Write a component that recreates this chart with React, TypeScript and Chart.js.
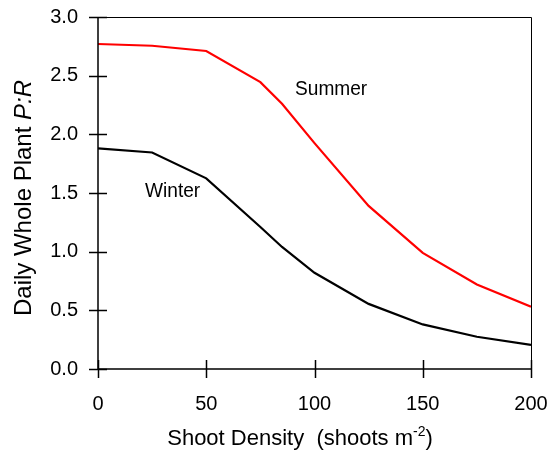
import React, { useEffect, useRef } from "react";
import { Chart, registerables } from "chart.js";

Chart.register(...registerables);

const densities = [0, 25, 50, 75, 85, 100, 125, 150, 175, 200];
const summerPR = [2.77, 2.755, 2.71, 2.445, 2.26, 1.925, 1.39, 0.99, 0.72, 0.53];
const winterPR = [1.88, 1.845, 1.625, 1.21, 1.04, 0.82, 0.555, 0.38, 0.275, 0.205];
const xTicks = [0, 50, 100, 150, 200];
const yTicks = [0, 0.5, 1.0, 1.5, 2.0, 2.5, 3.0];
const seriesNames = ["Summer", "Winter"];
const seriesColors = ["#ff0000", "#000000"];
// label anchor (data coords: x, y of text baseline-left)
const labelX = [91, 21.7];
const labelY = [2.335, 1.468];

const FONT = "'Liberation Sans', Arial, Helvetica, sans-serif";

const decorPlugin = {
  id: "decor",
  afterDraw(chart: any) {
    const { ctx, chartArea } = chart;
    const xs = chart.scales.x;
    const ys = chart.scales.y;
    const { left, right, top, bottom } = chartArea;
    ctx.save();
    // frame top and right
    ctx.strokeStyle = "#000";
    ctx.lineWidth = 1;
    ctx.beginPath();
    ctx.moveTo(left, top + 0.5);
    ctx.lineTo(right + 0.5, top + 0.5);
    ctx.lineTo(right + 0.5, bottom);
    ctx.stroke();
    // axes
    ctx.lineWidth = 1.5;
    ctx.beginPath();
    ctx.moveTo(left, top);
    ctx.lineTo(left, bottom);
    ctx.lineTo(right + 1, bottom);
    ctx.stroke();
    // ticks crossing axes
    ctx.lineWidth = 1.5;
    ctx.beginPath();
    for (const v of yTicks) {
      const py = Math.round(ys.getPixelForValue(v)) + 0.5;
      ctx.moveTo(left - 9, py);
      ctx.lineTo(left + 9, py);
    }
    for (const v of xTicks) {
      const px = Math.round(xs.getPixelForValue(v)) + 0.5;
      ctx.moveTo(px, bottom - 9);
      ctx.lineTo(px, bottom + 9);
    }
    ctx.stroke();

    // series labels
    ctx.fillStyle = "#000";
    ctx.font = `21px ${FONT}`;
    ctx.textBaseline = "alphabetic";
    ctx.textAlign = "left";
    for (let i = 0; i < seriesNames.length; i++) {
      const px = xs.getPixelForValue(labelX[i]);
      const py = ys.getPixelForValue(labelY[i]);
      ctx.save();
      ctx.translate(px, py);
      ctx.scale(0.91, 1);
      ctx.fillText(seriesNames[i], 0, 0);
      ctx.restore();
    }

    // x title
    ctx.font = `22px ${FONT}`;
    const parts = ["Shoot Density  (shoots m", "-2", ")"];
    const w0 = ctx.measureText(parts[0]).width;
    ctx.font = `14px ${FONT}`;
    const w1 = ctx.measureText(parts[1]).width;
    ctx.font = `22px ${FONT}`;
    const w2 = ctx.measureText(parts[2]).width;
    const total = w0 + w1 + w2;
    const cx = 300;
    let sx = cx - total / 2;
    const by = 445;
    ctx.fillText(parts[0], sx, by);
    sx += w0;
    ctx.font = `14px ${FONT}`;
    ctx.fillText(parts[1], sx, by - 9);
    sx += w1;
    ctx.font = `22px ${FONT}`;
    ctx.fillText(parts[2], sx, by);

    // y title
    ctx.save();
    ctx.translate(31, 198);
    ctx.rotate(-Math.PI / 2);
    ctx.font = `24px ${FONT}`;
    const a = "Daily Whole Plant ";
    const b = "P:R";
    const wa = ctx.measureText(a).width;
    ctx.font = `italic 24px ${FONT}`;
    const wb = ctx.measureText(b).width;
    let tx = -(wa + wb) / 2;
    ctx.font = `24px ${FONT}`;
    ctx.fillText(a, tx, 0);
    tx += wa;
    ctx.font = `italic 24px ${FONT}`;
    ctx.fillText(b, tx, 0);
    ctx.restore();

    ctx.restore();
  },
};

const zeroPad = (s: any) => {
  s.paddingTop = 0;
  s.paddingBottom = 0;
  s.paddingLeft = 0;
  s.paddingRight = 0;
};

export default function App() {
  const ref = useRef<HTMLCanvasElement | null>(null);
  useEffect(() => {
    if (!ref.current) return;
    const chart = new Chart(ref.current, {
      type: "line",
      data: {
        datasets: seriesNames.map((name, i) => ({
          label: name,
          data: densities.map((d, j) => ({ x: d, y: (i === 0 ? summerPR : winterPR)[j] })),
          borderColor: seriesColors[i],
          borderWidth: 2.2,
          pointRadius: 0,
          tension: 0,
          fill: false,
        })),
      },
      options: {
        animation: false,
        responsive: false,
        maintainAspectRatio: false,
        layout: { padding: { left: 0, top: 17, right: 18, bottom: 0 } },
        plugins: { legend: { display: false }, tooltip: { enabled: false }, title: { display: false } },
        scales: {
          x: {
            type: "linear",
            min: 0,
            max: 200,
            afterBuildTicks: (s: any) => {
              s.ticks = xTicks.map((v) => ({ value: v }));
            },
            afterFit: (s: any) => {
              s.height = 84;
              zeroPad(s);
            },
            grid: { display: false, drawTicks: false },
            border: { display: false },
            ticks: {
              color: "#000",
              font: { family: FONT, size: 20 },
              padding: 23,
              maxRotation: 0,
              callback: (v: any) => String(v),
            },
          },
          y: {
            type: "linear",
            min: 0,
            max: 3,
            afterBuildTicks: (s: any) => {
              s.ticks = yTicks.map((v) => ({ value: v }));
            },
            afterFit: (s: any) => {
              s.width = 98;
              zeroPad(s);
            },
            grid: { display: false, drawTicks: false },
            border: { display: false },
            ticks: {
              color: "#000",
              font: { family: FONT, size: 20 },
              padding: 20,
              callback: (v: any) => Number(v).toFixed(1),
            },
          },
        },
      },
      plugins: [decorPlugin],
    } as any);
    return () => chart.destroy();
  }, []);
  return (
    <div style={{ position: "fixed", left: 0, top: 0, width: 549, height: 453, background: "#fff" }}>
      <canvas ref={ref} width={549} height={453} style={{ width: 549, height: 453, display: "block" }} />
    </div>
  );
}
